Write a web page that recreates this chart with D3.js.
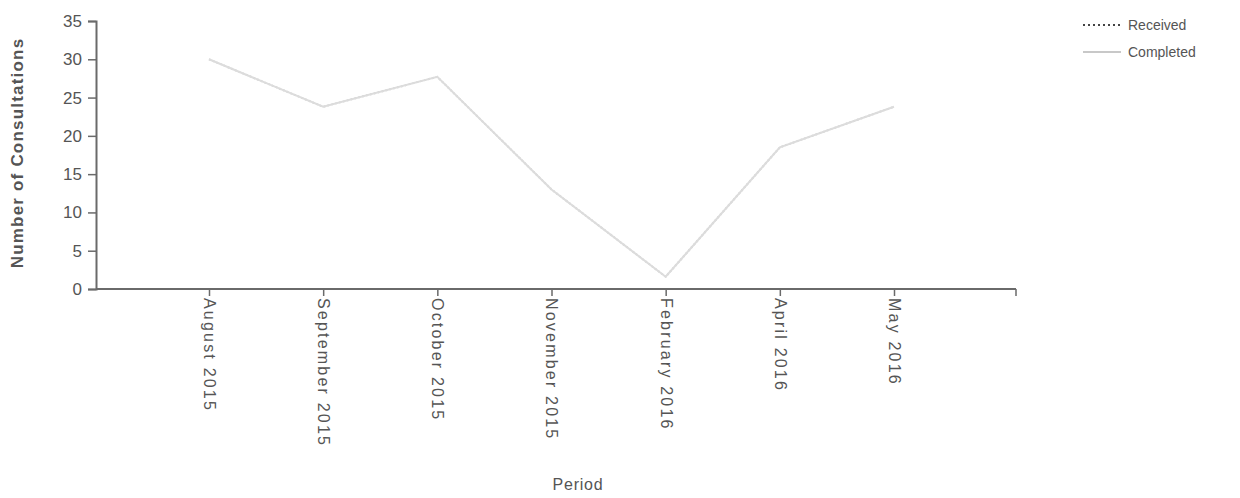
<!DOCTYPE html>
<html><head><meta charset="utf-8">
<script src="https://cdn.jsdelivr.net/npm/d3@7"></script>
<style>body{margin:0;background:#fff}svg{display:block}</style>
</head><body>
<svg id="c" width="1240" height="498"></svg>
<script>
const categories = ["August 2015","September 2015","October 2015","November 2015","February 2016","April 2016","May 2016"];
const received = [30, 23.8, 27.7, 13, 1.6, 18.5, 23.8];
const completed = [30, 23.8, 27.7, 13, 1.6, 18.5, 23.8];
const yTicks = [0,5,10,15,20,25,30,35];
const seriesNames = ["Received","Completed"];

const svg = d3.select("#c");
const axisColor = "#6a6a6a", textColor = "#555";
const font = "Liberation Sans, Arial, sans-serif";

const y = d3.scaleLinear().domain([0,35]).range([289,21]);
const x = d3.scalePoint().domain(categories).range([209,894]);
const axisLeft = 96, axisRight = 1016;

// y axis
const ya = svg.append("g").attr("transform",`translate(${axisLeft},0)`)
  .call(d3.axisLeft(y).tickValues(yTicks).tickSize(8).tickPadding(6));
ya.select(".domain").attr("stroke",axisColor).attr("stroke-width",2);
ya.selectAll(".tick line").attr("stroke",axisColor).attr("stroke-width",1.5);
ya.selectAll(".tick text").attr("fill",textColor).attr("font-family",font).attr("font-size",17);

// x axis
const xa = svg.append("g").attr("transform",`translate(0,289)`)
  .call(d3.axisBottom(x).tickSize(7).tickPadding(0));
xa.select(".domain").remove();
xa.append("line").attr("x1",axisLeft).attr("x2",axisRight).attr("y1",0).attr("y2",0)
  .attr("stroke",axisColor).attr("stroke-width",2);
xa.append("line").attr("x1",axisRight).attr("x2",axisRight).attr("y1",0).attr("y2",7)
  .attr("stroke",axisColor).attr("stroke-width",1.5);
xa.selectAll(".tick line").attr("stroke",axisColor).attr("stroke-width",1.5);
xa.selectAll(".tick text").attr("fill",textColor).attr("font-family",font).attr("font-size",16)
  .attr("letter-spacing","2.2px")
  .attr("text-anchor","start").attr("transform","translate(0,9) rotate(90)")
  .attr("x",0).attr("y",0).attr("dy","0.35em");

// axis titles
svg.append("text").attr("transform","translate(23,153) rotate(-90)").attr("text-anchor","middle")
  .attr("fill",textColor).attr("font-family",font).attr("font-size",17).attr("font-weight","bold")
  .attr("letter-spacing","1.2px")
  .text("Number of Consultations");
svg.append("text").attr("x",578).attr("y",490).attr("text-anchor","middle")
  .attr("fill",textColor).attr("font-family",font).attr("font-size",16).attr("letter-spacing","0.8px").text("Period");

// lines
const line = d3.line().x((d,i)=>x(categories[i])).y(d=>y(d));
svg.append("path").datum(received).attr("d",line).attr("fill","none")
  .attr("stroke","#d0d0d0").attr("stroke-width",2).attr("stroke-dasharray","2,2");
svg.append("path").datum(completed).attr("d",line).attr("fill","none")
  .attr("stroke","#dcdcdc").attr("stroke-width",2);

// legend
const lg = svg.append("g");
const legendStyles = [{stroke:"#444",dash:"2,3"},{stroke:"#c8c8c8",dash:null}];
seriesNames.forEach((n,i)=>{
  const yy = 25 + i*27;
  lg.append("line").attr("x1",1083).attr("x2",1121).attr("y1",yy).attr("y2",yy)
    .attr("stroke",legendStyles[i].stroke).attr("stroke-width",2)
    .attr("stroke-dasharray",legendStyles[i].dash);
  lg.append("text").attr("x",1128).attr("y",yy).attr("dy","0.35em")
    .attr("fill",textColor).attr("font-family",font).attr("font-size",14).text(n);
});
</script>
</body></html>
